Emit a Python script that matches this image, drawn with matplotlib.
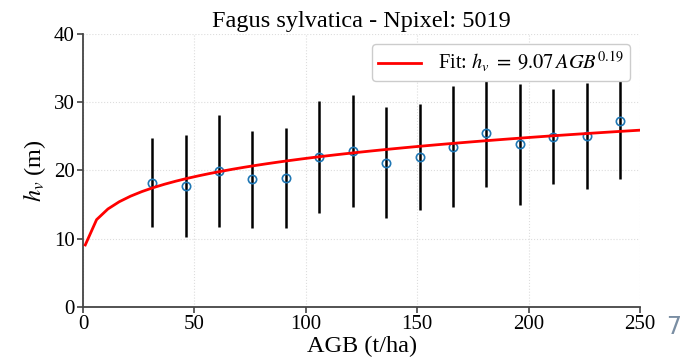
import numpy as np
import matplotlib.pyplot as plt

# binned AGB centres, mean height and std per bin
agb = [31, 46, 61, 76, 91, 106, 121, 136, 151, 166, 181, 196, 211, 226, 241]
hv_mean = [18.2, 17.75, 19.9, 18.7, 18.85, 21.95, 22.8, 21.15, 21.95, 23.5,
           25.5, 23.8, 24.95, 25.0, 27.3]
hv_std = [6.5, 7.45, 8.2, 7.1, 7.35, 8.15, 8.2, 8.15, 7.75, 8.8,
          8.0, 8.8, 6.95, 7.8, 8.5]

# power-law fit hv = a * AGB^b
fit_a = 9.07
fit_b = 0.19
n_pixel = 5019

plt.rcParams['font.family'] = 'Liberation Serif'
plt.rcParams['mathtext.fontset'] = 'stix'

fig = plt.figure(figsize=(6.92, 3.61), dpi=100)
ax = fig.add_axes([0.12, 0.150, 0.805, 0.756])

x_fit = np.linspace(1, 250, 50)
ax.plot(x_fit, fit_a * x_fit ** fit_b, color='red', lw=2,
        label=r'Fit: $h_v\;=\;%.2f\,AGB^{%.2f}$' % (fit_a, fit_b), zorder=3)
ax.errorbar(agb, hv_mean, yerr=hv_std, fmt='o', mfc='none', mec='#1f77b4',
            ms=6, mew=1.2, ecolor='black', elinewidth=1.8, capsize=0, zorder=2)

ax.set_xlim(0, 250)
ax.set_ylim(0, 40)
ax.set_xticks([0, 50, 100, 150, 200, 250])
ax.set_yticks([0, 10, 20, 30, 40])
ax.grid(True, color='#dddddd', ls=':', lw=0.8)
for s in ['top', 'right']:
    ax.spines[s].set_visible(False)
for s in ['left', 'bottom']:
    ax.spines[s].set_color('#444444')
    ax.spines[s].set_linewidth(1.3)
ax.tick_params(labelsize=15, color='#444444', length=4, width=1.2, pad=2)

ax.set_title('Fagus sylvatica - Npixel: %d' % n_pixel, fontsize=17.5, pad=5)
ax.set_xlabel('AGB (t/ha)', fontsize=17.5, labelpad=1)
ax.set_ylabel(r'$h_v$ (m)', fontsize=17.5, labelpad=4)

leg = ax.legend(loc='upper right', fontsize=14.8, frameon=True, borderpad=0.3,
                handlelength=2.1, framealpha=1, bbox_to_anchor=(1.0, 1.0))
leg.get_frame().set_edgecolor('#cccccc')

fig.text(0.962, 0.095, '7', color='#7a8ea3', fontsize=17, family='DejaVu Sans',
         ha='left', va='center')

fig.savefig('out.png', dpi=100)
